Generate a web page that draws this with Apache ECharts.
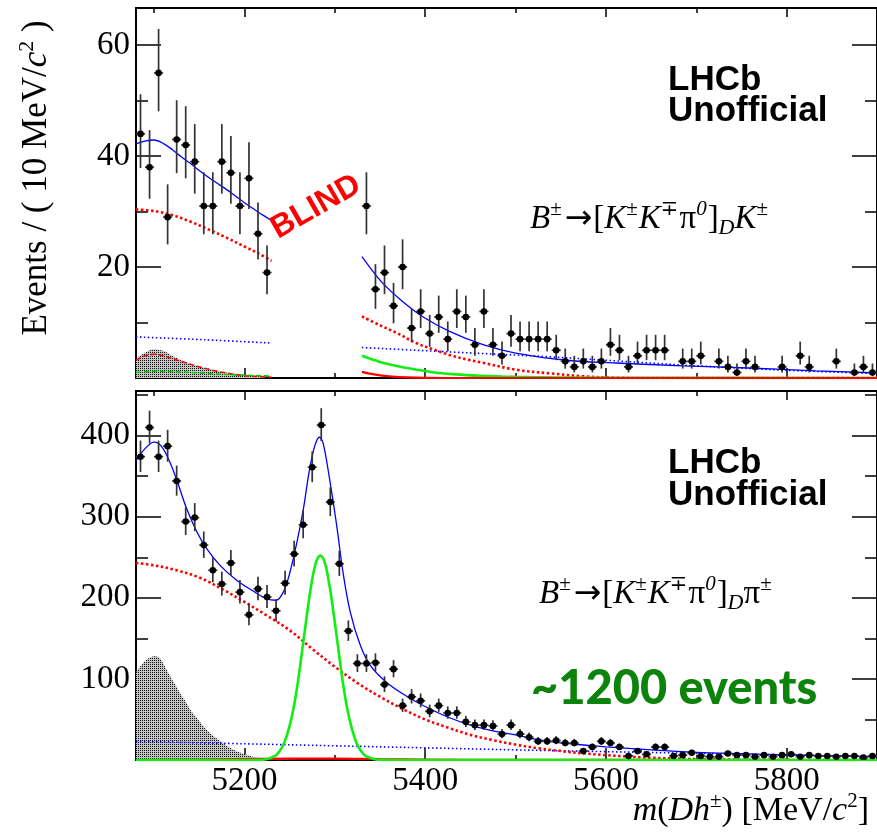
<!DOCTYPE html>
<html>
<head>
<meta charset="utf-8">
<script src="https://cdn.jsdelivr.net/npm/echarts@6/dist/echarts.min.js"></script>
<style>
  html, body { margin: 0; padding: 0; background: #fff; }
  #chart { width: 877px; height: 835px; }
</style>
</head>
<body>
<div id="chart"></div>
<script>
// binning of both histograms (10 MeV bins)
const BIN_LO = 5080, BIN_W = 10;
const X_MIN = 5080, X_MAX = 5900;

// B -> [KKpi0]_D K  (bins 5230-5330 are blinded)
const countsDK = [44, 38, 55, 29, 43, 42, 39, 31, 31, 39, 37, 31, 36, 26, 19,
  null, null, null, null, null, null, null, null, null, null,
  31, 16, 19, 13, 20, 9, 12, 8, 11, 7, 12, 11, 6, 12, 6, 4, 8, 7, 7, 7,
  7, 5, 3, 2, 3, 2, 3, 6, 5, 2, 4, 5, 5, 5, 0, 3, 3, 4, 0, 3,
  2, 1, 3, 2, 0, 0, 2, 0, 4, 2, 0, 0, 3, 0, 1, 2, 1];

// B -> [KKpi0]_D pi
const countsDpi = [374, 410, 374, 387, 344, 294, 299, 265, 234, 217,
  243, 207, 179, 211, 201, 184, 218, 254, 290, 361,
  413, 318, 242, 159, 119, 119, 120, 93, 112, 67,
  78, 73, 60, 67, 58, 58, 47, 43, 43, 42,
  32, 43, 32, 28, 23, 23, 24, 21, 21, 11,
  16, 23, 21, 16, 5, 11, 7, 16, 16, 5,
  6, 9, 5, 4, 4, 8, 6, 6, 4, 6,
  4, 6, 7, 4, 6, 5, 5, 4, 5, 5,
  3, 5];

// fit curves, top panel (left / right of the blind window)
const dkTotalL = [[5080, 42.2], [5090, 42.7], [5100, 42.9], [5110, 42.3], [5120, 41.2], [5130, 39.9],
  [5140, 38.7], [5150, 37.4], [5160, 36.2], [5170, 35.1], [5180, 34], [5190, 32.8], [5200, 31.6],
  [5210, 30.5], [5220, 29.4], [5230, 28.4]];
const dkTotalR = [[5330, 21.9], [5353, 17.1], [5375, 13.8], [5397, 11.1], [5427, 8.4], [5464, 6.0],
  [5500, 4.5], [5556, 3.2], [5611, 2.7], [5685, 2.2], [5758, 1.8], [5832, 1.3], [5900, 0.9]];
const dkCombL = [[5080, 7.4], [5155, 6.9], [5230, 6.3]];
const dkCombR = [[5330, 5.5], [5427, 4.7], [5540, 3.8], [5620, 3.0], [5700, 2.2], [5800, 1.4], [5900, 0.8]];
const dkPartL = [[5080, 30.4], [5100, 30.1], [5120, 29.4], [5140, 28.2], [5160, 26.8], [5180, 25.3],
  [5200, 23.7], [5215, 22.5], [5230, 21.1]];
const dkPartR = [[5330, 11.1], [5350, 9.5], [5370, 8.0], [5390, 6.3], [5410, 5.1], [5430, 4.0],
  [5450, 3.2], [5465, 2.7], [5500, 1.5], [5540, 0.8], [5575, 0.3], [5610, 0.05], [5650, 0], [5900, 0]];
const dkMisIdR = [[5330, 4.0], [5350, 2.9], [5370, 2.1], [5390, 1.5], [5410, 1.0], [5430, 0.7],
  [5460, 0.4], [5500, 0.2], [5550, 0.1], [5600, 0.05], [5900, 0]];
const dkRedR = [[5330, 1.1], [5345, 0.6], [5360, 0.3], [5380, 0.1], [5420, 0], [5900, 0]];
const dkGreyL = [[5080, 3.5], [5090, 4.6], [5100, 5.2], [5110, 4.9], [5120, 4.0], [5130, 3.2],
  [5140, 2.6], [5150, 2.1], [5160, 1.7], [5170, 1.3], [5180, 1.0], [5190, 0.8], [5200, 0.6],
  [5210, 0.5], [5220, 0.4], [5230, 0.35]];
const dkRedDashL = [[5080, 3.2], [5090, 4.0], [5100, 4.3], [5110, 4.0], [5120, 3.5], [5130, 3.0],
  [5140, 2.5], [5150, 2.0], [5160, 1.6], [5170, 1.2], [5180, 0.9], [5190, 0.6], [5200, 0.4],
  [5215, 0.25], [5230, 0.15]];
const dkGreenDashL = [[5080, 1.0], [5100, 1.2], [5130, 1.1], [5160, 0.8], [5200, 0.5], [5230, 0.35]];

// fit curves, bottom panel
const dpiTotal = [[5080, 369], [5090, 384], [5100, 392], [5108, 387], [5118, 366], [5127, 339],
  [5136, 310], [5147, 282], [5158, 261], [5173, 240], [5191, 222], [5210, 208], [5224, 199],
  [5235, 197], [5243, 207], [5250, 230], [5258, 268], [5265, 308], [5272, 358], [5278, 388],
  [5283, 398], [5287, 391], [5294, 348], [5302, 290], [5309, 232], [5317, 183], [5328, 142],
  [5339, 117], [5357, 96], [5379, 79], [5400, 66], [5425, 53], [5450, 43], [5475, 36], [5500, 31],
  [5525, 25], [5550, 21], [5575, 18.5], [5600, 16.3], [5650, 12.5], [5700, 9.5], [5750, 7.8],
  [5800, 6.3], [5850, 5.2], [5900, 4.2]];
const dpiComb = [[5080, 23], [5200, 20], [5300, 17.5], [5400, 15], [5500, 12.5], [5600, 10.3],
  [5700, 8.2], [5800, 6.2], [5900, 4.2]];
const dpiPart = [[5080, 243], [5100, 240], [5125, 234], [5150, 225], [5175, 211], [5200, 195],
  [5225, 178], [5250, 160], [5275, 137], [5300, 115], [5325, 95], [5350, 78], [5375, 63],
  [5400, 50], [5425, 40], [5450, 31], [5475, 24.5], [5500, 19], [5525, 14.5], [5550, 11],
  [5575, 8.2], [5600, 6], [5625, 4.2], [5650, 2.8], [5675, 1.8], [5700, 1.1], [5750, 0.35],
  [5800, 0.1], [5900, 0]];
const dpiSig = [[5080, 0], [5200, 0], [5214, 0.2], [5224, 1], [5234, 5], [5239, 11], [5244, 21],
  [5249, 38], [5254, 62], [5259, 95], [5264, 136], [5269, 178], [5274, 216], [5279, 243],
  [5284, 252], [5289, 243], [5294, 216], [5299, 178], [5304, 136], [5309, 95], [5314, 62],
  [5319, 38], [5324, 21], [5329, 11], [5334, 5], [5344, 1], [5354, 0.2], [5370, 0], [5900, 0]];
const dpiGrey = [[5080, 108], [5090, 122], [5100, 128], [5106, 126], [5113, 113], [5120, 99],
  [5124, 92], [5130, 80], [5135, 72], [5140, 62], [5148, 51], [5156, 40], [5164, 31], [5175, 22],
  [5186, 14], [5197, 8.5], [5209, 4], [5220, 2], [5235, 0.8], [5250, 0.3], [5270, 0]];
const dpiRed = [[5080, 0], [5150, 0.3], [5200, 1.2], [5250, 1.8], [5300, 1.6], [5350, 1.0],
  [5400, 0.5], [5500, 0.1], [5900, 0]];

// ticks
const xMajor = [5200, 5400, 5600, 5800];
const xMinor = [5100, 5300, 5500, 5700];
const xLabels = [5200, 5400, 5600, 5800];
const yTopMax = 66.7, yTopMajor = [20, 40, 60], yTopMinor = [10, 30, 50];
const yBotMax = 455, yBotMajor = [100, 200, 300, 400], yBotMinor = [50, 150, 250, 350, 450];

const SERIF = '"Liberation Serif", "DejaVu Serif", serif';
const SANS = '"Liberation Sans", Arial, sans-serif';

var dom = document.getElementById('chart');
var myChart = echarts.init(dom, null, { renderer: 'canvas' });

// dotted grey fill like ROOT's hatch
var pat = document.createElement('canvas');
pat.width = 2; pat.height = 2;
var pctx = pat.getContext('2d');
pctx.fillStyle = '#c4c4c4'; pctx.fillRect(0, 0, 2, 2);
pctx.fillStyle = '#111'; pctx.fillRect(0, 0, 1, 1);
var hatch = { image: pat, repeat: 'repeat' };

function tickAxis(kind, grid, pos, vals, len, labels, max) {
  var ax = {
    gridIndex: grid, type: 'value', position: pos,
    axisLine: { show: false, onZero: false },
    splitLine: { show: false },
    axisTick: { inside: true, length: len, customValues: vals, lineStyle: { color: '#000', width: 1.5 } },
    axisLabel: { show: false }
  };
  if (kind === 'x') { ax.min = X_MIN; ax.max = X_MAX; }
  else { ax.min = 0; ax.max = max; }
  if (labels) {
    ax.axisLabel = {
      show: true, customValues: labels, color: '#000', fontSize: 33, fontFamily: SERIF,
      margin: kind === 'x' ? 5 : 6,
      formatter: function (v) { return String(v); }
    };
  }
  return ax;
}

var xAxes = [], yAxes = [];
[0, 1].forEach(function (g) {
  xAxes.push(tickAxis('x', g, 'bottom', xMajor, g ? 12 : 10, g ? xLabels : null));
  xAxes.push(tickAxis('x', g, 'bottom', xMinor, 5));
  xAxes.push(tickAxis('x', g, 'top', xMajor, 9));
  xAxes.push(tickAxis('x', g, 'top', xMinor, 5));
  var ymax = g ? yBotMax : yTopMax;
  var maj = g ? yBotMajor : yTopMajor, mnr = g ? yBotMinor : yTopMinor;
  yAxes.push(tickAxis('y', g, 'left', maj, 25, maj, ymax));
  yAxes.push(tickAxis('y', g, 'left', mnr, 12, null, ymax));
  yAxes.push(tickAxis('y', g, 'right', maj, 25, null, ymax));
  yAxes.push(tickAxis('y', g, 'right', mnr, 12, null, ymax));
});

function curve(data, g, color, width, type, z) {
  return {
    type: 'line', xAxisIndex: g * 4, yAxisIndex: g * 4, data: data,
    symbol: 'none', smooth: 0.35, silent: true, z: z || 3,
    lineStyle: { color: color, width: width, type: type || 'solid' }
  };
}
function area(data, g) {
  return {
    type: 'line', xAxisIndex: g * 4, yAxisIndex: g * 4, data: data,
    symbol: 'none', smooth: 0.35, silent: true, z: 2,
    lineStyle: { width: 0 }, areaStyle: { color: hatch, opacity: 1 }
  };
}
function points(counts, g) {
  var d = [];
  counts.forEach(function (n, i) {
    if (n !== null && n > 0) d.push([BIN_LO + BIN_W * (i + 0.5), n]);
  });
  return {
    type: 'custom', xAxisIndex: g * 4, yAxisIndex: g * 4, data: d, z: 5, clip: true,
    renderItem: function (params, api) {
      var x = api.value(0), n = api.value(1);
      var lo = n + 0.5 - Math.sqrt(n + 0.25), hi = n + 0.5 + Math.sqrt(n + 0.25);
      var c = api.coord([x, n]), pl = api.coord([x, lo]), ph = api.coord([x, hi]);
      var xl = api.coord([x - BIN_W / 2, n]), xr = api.coord([x + BIN_W / 2, n]);
      var st = { stroke: '#333', lineWidth: 1.7 };
      return {
        type: 'group', children: [
          { type: 'line', shape: { x1: pl[0], y1: pl[1], x2: ph[0], y2: ph[1] }, style: st },
          { type: 'line', shape: { x1: xl[0], y1: c[1], x2: xr[0], y2: c[1] }, style: st },
          { type: 'circle', shape: { cx: c[0], cy: c[1], r: 3.3 }, style: { fill: '#000' } }
        ]
      };
    }
  };
}

const BLUE = '#0000ff', RED = '#ff0000', GREEN = '#11ee11';
var series = [
  area(dkGreyL, 0),
  curve(dkRedDashL, 0, RED, 1.5, [5, 3]),
  curve(dkGreenDashL, 0, '#00cc00', 1.5, [5, 3]),
  curve(dkCombL, 0, BLUE, 1.6, [1.5, 2.5]),
  curve(dkCombR, 0, BLUE, 1.6, [1.5, 2.5]),
  curve(dkPartL, 0, RED, 2.6, [2.5, 2.5]),
  curve(dkPartR, 0, RED, 2.6, [2.5, 2.5]),
  curve(dkMisIdR, 0, GREEN, 2.6),
  curve(dkRedR, 0, RED, 2.2),
  curve(dkTotalL, 0, BLUE, 1.3, 'solid', 4),
  curve(dkTotalR, 0, BLUE, 1.3, 'solid', 4),
  points(countsDK, 0),

  area(dpiGrey, 1),
  curve(dpiRed, 1, RED, 2.2),
  curve(dpiComb, 1, BLUE, 1.6, [1.5, 2.5]),
  curve(dpiPart, 1, RED, 2.6, [2.5, 2.5]),
  curve(dpiSig, 1, GREEN, 2.6),
  curve(dpiTotal, 1, BLUE, 1.3, 'solid', 4),
  points(countsDpi, 1)
];

function formulaRich() {
  return {
    n: { fontSize: 33, fontFamily: SERIF, lineHeight: 40, fill: '#000' },
    i: { fontSize: 33, fontFamily: SERIF, fontStyle: 'italic', lineHeight: 40, fill: '#000' },
    a: { fontSize: 33, fontFamily: '"DejaVu Sans", sans-serif', lineHeight: 40, fill: '#000', padding: [0, 1, 0, 2] },
    s: { fontSize: 21, fontFamily: SERIF, lineHeight: 27, verticalAlign: 'top', fill: '#000', padding: [0, 1, 0, 0] },
    t: { fontSize: 21, fontFamily: SERIF, lineHeight: 10, verticalAlign: 'top', fill: '#000', padding: [0, 1, 0, 0] },
    ti: { fontSize: 21, fontFamily: SERIF, fontStyle: 'italic', lineHeight: 15, verticalAlign: 'top', fill: '#000', padding: [0, 1, 0, 0] },
    d: { fontSize: 22, fontFamily: SERIF, fontStyle: 'italic', lineHeight: 13, verticalAlign: 'bottom', fill: '#000' }
  };
}
function label(x, y, text, size, extra) {
  var st = { text: text, fill: '#000', fontSize: size, fontFamily: SANS, fontWeight: 'bold',
    align: 'left', verticalAlign: 'middle' };
  for (var k in extra) st[k] = extra[k];
  return { type: 'text', x: x, y: y, z: 100, silent: true, style: st };
}

var graphic = [
  label(668, 80, 'LHCb', 35),
  label(668, 111, 'Unofficial', 35),
  label(668, 463, 'LHCb', 35),
  label(668, 495, 'Unofficial', 35),
  { type: 'text', x: 316, y: 207, rotation: Math.PI / 6, z: 100, silent: true,
    style: { text: 'BLIND', fill: RED, fontSize: 32, fontFamily: SANS, fontWeight: 'bold',
      align: 'center', verticalAlign: 'middle' } },
  label(531, 689, '~1200 events', 47, { fill: '#0c840c', fontFamily: 'Lato, "Open Sans", sans-serif', fontWeight: 900 }),
  { type: 'text', x: 530, y: 199, z: 100, silent: true,
    style: { text: '{i|B}{s|±}{a|→}{n|[}{i|K}{s|±}{i|K}{t|∓}{n|π}{ti|0}{n|]}{d|D}{i|K}{s|±}',
      rich: formulaRich(), align: 'left', verticalAlign: 'top' } },
  { type: 'text', x: 539, y: 574, z: 100, silent: true,
    style: { text: '{i|B}{s|±}{a|→}{n|[}{i|K}{s|±}{i|K}{t|∓}{n|π}{ti|0}{n|]}{d|D}{n|π}{s|±}',
      rich: formulaRich(), align: 'left', verticalAlign: 'top' } },
  { type: 'text', x: 37, y: 178, rotation: Math.PI / 2, z: 100, silent: true,
    style: { text: '{n|Events / ( 10 MeV/}{i|c}{s|2}{n| )}', align: 'center', verticalAlign: 'middle',
      rich: {
        n: { fontSize: 35, fontFamily: SERIF, lineHeight: 42, fill: '#000' },
        i: { fontSize: 35, fontFamily: SERIF, fontStyle: 'italic', lineHeight: 42, fill: '#000' },
        s: { fontSize: 22, fontFamily: SERIF, lineHeight: 22, verticalAlign: 'top', fill: '#000' }
      } } },
  { type: 'text', x: 869, y: 791, z: 100, silent: true,
    style: { text: '{i|m}{n|(}{i|Dh}{s|±}{n|) [MeV/}{i|c}{s|2}{n|]}', align: 'right', verticalAlign: 'top',
      rich: {
        n: { fontSize: 34, fontFamily: SERIF, lineHeight: 40, fill: '#000' },
        i: { fontSize: 34, fontFamily: SERIF, fontStyle: 'italic', lineHeight: 40, fill: '#000' },
        s: { fontSize: 21, fontFamily: SERIF, lineHeight: 22, verticalAlign: 'top', fill: '#000' }
      } } }
];

var option = {
  animation: false,
  backgroundColor: '#fff',
  grid: [
    { left: 136, right: -1, top: 8, height: 370, show: true, borderColor: '#000', borderWidth: 2, backgroundColor: 'transparent' },
    { left: 136, right: -1, top: 391, height: 369, show: true, borderColor: '#000', borderWidth: 2, backgroundColor: 'transparent' }
  ],
  xAxis: xAxes,
  yAxis: yAxes,
  series: series,
  graphic: graphic
};
myChart.setOption(option);
</script>
</body>
</html>
